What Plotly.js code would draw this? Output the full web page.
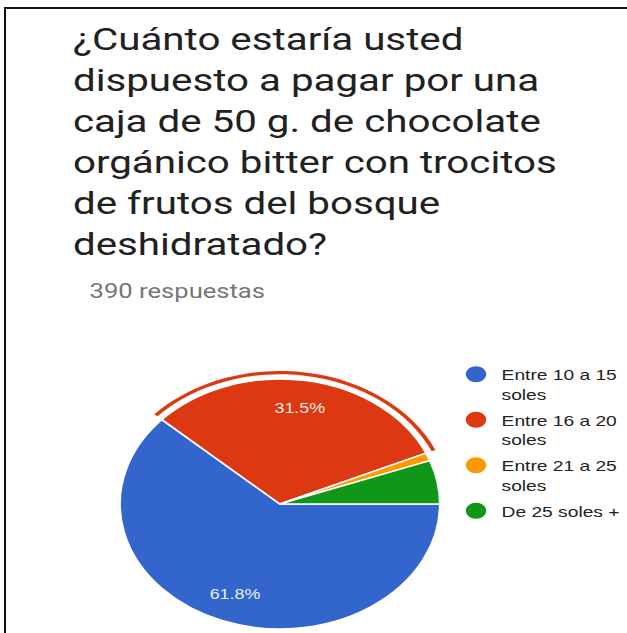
<!DOCTYPE html>
<html>
<head>
<meta charset="utf-8">
<script src="https://cdn.plot.ly/plotly-3.0.1.min.js"></script>
<style>
  html, body { margin: 0; padding: 0; background: #fff; overflow: hidden; width: 627px; height: 633px; }
  #wrap { width: 490px; height: 650px; transform: scaleX(1.2796); transform-origin: 0 0; }
</style>
</head>
<body>
<div id="wrap"><div id="chart"></div></div>
<script>
// ---- data ----
const categories = ["Entre 10 a 15 soles", "Entre 16 a 20 soles", "Entre 21 a 25 soles", "De 25 soles +"];
const legendLabels = ["Entre 10 a 15<br>soles", "Entre 16 a 20<br>soles", "Entre 21 a 25<br>soles", "De 25 soles +"];
const responses = [241, 123, 4, 22];   // of 390 responses
const colors = ["#3366cc", "#dc3912", "#ff9900", "#109618"];
const highlighted = 1;                  // hovered slice (Entre 16 a 20 soles)
const labelShown = [true, true, false, false];
const titleText = "¿Cuánto estaría usted<br>dispuesto a pagar por una<br>caja de 50 g. de chocolate<br>orgánico bitter con trocitos<br>de frutos del bosque<br>deshidratado?";
const subtitleText = "390 respuestas";

const W = 490, H = 650;
const cx = 218.75, cyFromBottom = 146, R = 125, Rring = 133, ringInner = 129.8;
function dom(r) {
  return { x: [(cx - r) / W, (cx + r) / W], y: [(cyFromBottom - r) / H, (cyFromBottom + r) / H] };
}

const traces = [];
// main pie
traces.push({
  type: "pie", labels: categories, values: responses, sort: false,
  direction: "clockwise", rotation: 90,
  marker: { colors: colors, line: { color: "#ffffff", width: 1.5 } },
  textinfo: "none", showlegend: false, hoverinfo: "skip",
  domain: dom(R)
});
// highlight ring around hovered slice
traces.push({
  type: "pie", labels: categories, values: responses, sort: false,
  direction: "clockwise", rotation: 90, hole: ringInner / Rring,
  marker: { colors: colors.map((c, i) => i === highlighted ? c : "rgba(0,0,0,0)"), line: { width: 0 } },
  textinfo: "none", showlegend: false, hoverinfo: "skip",
  domain: dom(Rring)
});
// percentage labels
traces.push({
  type: "pie", labels: categories, values: responses, sort: false,
  direction: "clockwise", rotation: 90, hole: 0.55,
  marker: { colors: colors.map(() => "rgba(0,0,0,0)"), line: { width: 0 } },
  texttemplate: labelShown.map(s => s ? "%{percent:.1%}" : ""),
  textposition: "inside", insidetextorientation: "horizontal",
  textfont: { family: "Arial, 'Liberation Sans', sans-serif", size: 14, color: "rgba(255,255,255,0.92)" },
  showlegend: false, hoverinfo: "skip",
  domain: dom(R)
});
// legend entries (circle markers)
legendLabels.forEach((lab, i) => {
  traces.push({
    type: "scatter", mode: "markers", x: [null], y: [null], name: lab,
    legendgroup: "g" + i,
    marker: { color: colors[i], size: 16, symbol: "circle" },
    showlegend: true, hoverinfo: "skip"
  });
});

const layout = {
  width: W, height: H,
  margin: { l: 0, r: 0, t: 0, b: 0, autoexpand: false },
  paper_bgcolor: "#ffffff", plot_bgcolor: "rgba(0,0,0,0)",
  xaxis: { visible: false, range: [0, 1] },
  yaxis: { visible: false, range: [0, 1] },
  title: {
    text: titleText, x: 57 / W, xanchor: "left", xref: "paper",
    y: 1 - 50 / H, yanchor: "top", yref: "paper", automargin: false,
    font: { family: "Roboto, sans-serif", size: 31.5, color: "#212121" }
  },
  annotations: [{
    text: subtitleText, xref: "paper", yref: "paper",
    x: 67.5 / W, y: 1 - 277 / H, xanchor: "left", yanchor: "top", showarrow: false,
    font: { family: "Roboto, sans-serif", size: 20, color: "#757575" }
  }],
  legend: {
    x: 352 / W, xanchor: "left", y: 1 - 358 / H, yanchor: "top",
    valign: "top", itemwidth: 30, tracegroupgap: 3.5,
    font: { family: "Arial, 'Liberation Sans', sans-serif", size: 15, color: "#222222" },
    bgcolor: "rgba(0,0,0,0)", borderwidth: 0
  },
  shapes: [
    { type: "line", xref: "paper", yref: "paper", x0: 3.9 / W, x1: 1.01, y0: 1 - 8 / H, y1: 1 - 8 / H, line: { color: "#111", width: 2 } },
    { type: "line", xref: "paper", yref: "paper", x0: 3.9 / W, x1: 3.9 / W, y0: 1 - 7 / H, y1: -0.01, line: { color: "#111", width: 1.6 } }
  ],
  hovermode: false, showlegend: true
};

Plotly.newPlot("chart", traces, layout, { staticPlot: true, displayModeBar: false });
</script>
</body>
</html>
